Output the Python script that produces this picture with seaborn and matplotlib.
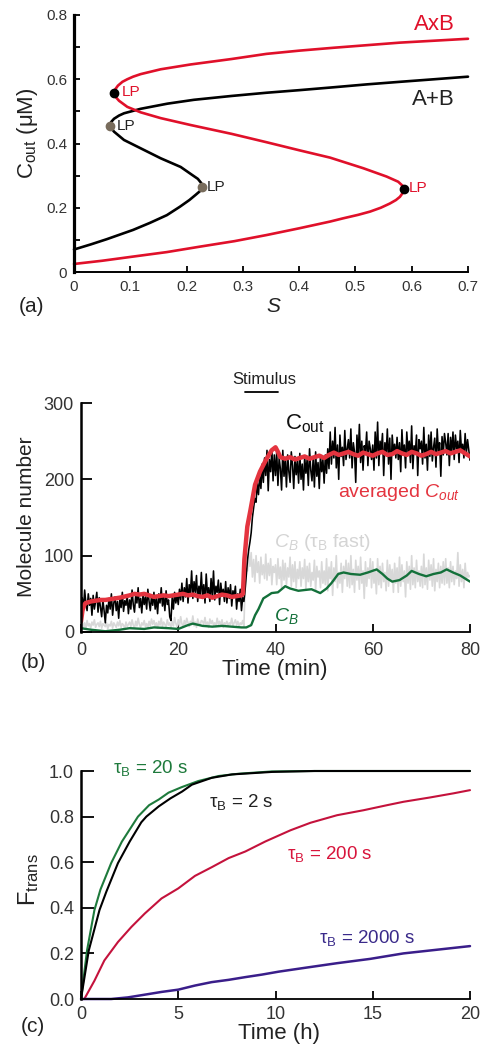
import numpy as np
import matplotlib
matplotlib.use('Agg')
import matplotlib.pyplot as plt
import seaborn as sns

# ---------------- Panel (a): bifurcation diagram ----------------
ab_S = [0.0, 0.03, 0.058, 0.105, 0.135, 0.165, 0.188, 0.205, 0.216, 0.224, 0.228,
        0.226, 0.220, 0.210, 0.1895, 0.154, 0.1185, 0.0888, 0.071, 0.064, 0.066,
        0.0711, 0.080, 0.0888, 0.1185, 0.166, 0.213, 0.28, 0.342, 0.40, 0.461, 0.52,
        0.579, 0.64, 0.70]
ab_C = [0.070, 0.086, 0.102, 0.131, 0.153, 0.177, 0.203, 0.224, 0.240, 0.252, 0.264,
        0.277, 0.290, 0.302, 0.327, 0.354, 0.385, 0.411, 0.437, 0.454, 0.467,
        0.477, 0.487, 0.494, 0.508, 0.524, 0.536, 0.548, 0.558, 0.566, 0.575, 0.584,
        0.592, 0.600, 0.608]
axb_S = [0.0, 0.05, 0.105, 0.165, 0.224, 0.285, 0.342, 0.40, 0.455, 0.478, 0.505,
         0.526, 0.545, 0.561, 0.572, 0.579, 0.584, 0.586, 0.584, 0.576, 0.5555,
         0.514, 0.455, 0.40, 0.342, 0.28, 0.207, 0.154, 0.1185, 0.0947, 0.080,
         0.074, 0.0711, 0.073, 0.078, 0.086, 0.0947, 0.105, 0.1185, 0.154, 0.207,
         0.28, 0.342, 0.40, 0.461, 0.52, 0.579, 0.64, 0.70]
axb_C = [0.025, 0.035, 0.048, 0.062, 0.079, 0.096, 0.115, 0.136, 0.157, 0.167, 0.178,
         0.188, 0.200, 0.213, 0.224, 0.234, 0.246, 0.257, 0.268, 0.281, 0.297,
         0.323, 0.356, 0.379, 0.404, 0.430, 0.4576, 0.479, 0.497, 0.514, 0.533,
         0.545, 0.556, 0.568, 0.580, 0.592, 0.600, 0.608, 0.616, 0.631, 0.646,
         0.663, 0.679, 0.689, 0.698, 0.706, 0.714, 0.720, 0.726]
lp_red_S = [0.0711, 0.586]
lp_red_C = [0.556, 0.2574]
lp_black_S = [0.064, 0.228]
lp_black_C = [0.4545, 0.264]
a_xticks = [0, 0.1, 0.2, 0.3, 0.4, 0.5, 0.6, 0.7]
a_xticklabels = ['0', '0.1', '0.2', '0.3', '0.4', '0.5', '0.6', '0.7']
a_yticks = [0, 0.2, 0.4, 0.6, 0.8]
a_yticklabels = ['0', '0.2', '0.4', '0.6', '0.8']
a_yminor = [0.1, 0.3, 0.5, 0.7]

# ---------------- Panel (b): time series (0.25 min sampling) ----------------
cout_raw = [18, 45, 30, 55, 38, 28, 50, 35, 44, 22, 48, 30, 40, 52, 26, 45, 33, 20, 42, 28,
            12, 35, 25, 44, 30, 50, 22, 38, 46, 28, 40, 18, 44, 32, 52, 27, 41, 35, 48, 24,
            42, 30, 55, 36, 26, 48, 38, 58, 32, 44, 25, 50, 36, 46, 30, 56, 40, 28, 47, 35,
            52, 30, 44, 24, 50, 38, 58, 34, 46, 28, 54, 36, 42, 20, 15, 45, 30, 52, 38, 48,
            36, 56, 42, 64, 40, 58, 46, 70, 38, 62, 50, 80, 44, 66, 52, 74, 40, 60, 48, 78,
            44, 62, 38, 76, 50, 58, 40, 70, 46, 80, 42, 60, 52, 68, 36, 64, 48, 56, 40, 66,
            38, 58, 44, 62, 34, 54, 46, 60, 30, 50, 40, 56, 28, 45, 40, 55, 75, 95, 108, 118,
            130, 150, 162, 175, 170, 195, 180, 205, 188, 220, 196, 228, 205, 238, 185, 226, 210, 240, 198, 232,
            205, 236, 192, 228, 214, 186, 238, 204, 226, 190, 232, 210, 196, 236, 218, 188, 230, 206, 224, 195,
            234, 200, 220, 186, 230, 208, 226, 192, 240, 212, 198, 228, 190, 236, 204, 222, 188, 232, 210, 226,
            195, 232, 208, 240, 214, 262, 220, 250, 228, 268, 215, 245, 200, 258, 230, 242, 218, 264, 226, 240,
            252, 228, 266, 215, 248, 236, 196, 258, 230, 272, 222, 250, 212, 244, 236, 262, 218, 250, 240, 226,
            245, 212, 262, 228, 275, 218, 250, 238, 260, 205, 248, 232, 266, 220, 254, 200, 258, 236, 246, 228,
            255, 226, 248, 210, 265, 232, 245, 215, 262, 236, 250, 222, 270, 214, 244, 234, 258, 205, 252, 240,
            250, 220, 268, 228, 246, 212, 258, 230, 262, 224, 242, 254, 216, 266, 236, 248, 204, 256, 232, 260,
            248, 232, 260, 218, 255, 236, 262, 226, 258, 240, 250, 222, 264, 238, 246, 228, 260, 234, 252, 238,
            225]
cb_fast = [8, 14, 6, 12, 4, 15, 8, 11, 5, 13, 9, 16, 6, 10, 12, 7, 14, 5, 11, 9,
           7, 12, 4, 10, 8, 14, 5, 12, 9, 6, 13, 8, 15, 6, 11, 9, 4, 13, 7, 10,
           13, 7, 16, 9, 5, 14, 8, 18, 10, 6, 12, 9, 15, 7, 11, 5, 14, 8, 17, 10,
           15, 8, 12, 5, 14, 9, 18, 7, 13, 10, 6, 16, 9, 12, 5, 14, 8, 19, 11, 7,
           16, 8, 20, 11, 6, 15, 9, 18, 12, 7, 14, 10, 21, 8, 13, 6, 17, 11, 9, 15,
           14, 10, 19, 8, 13, 6, 17, 11, 15, 9, 12, 7, 18, 10, 14, 8, 16, 6, 12, 10,
           14, 8, 12, 10, 18, 8, 12, 16, 9, 14, 7, 12, 10, 15, 8, 60, 98, 80, 104, 86,
           104, 72, 95, 66, 100, 78, 92, 64, 98, 75, 88, 70, 102, 68, 90, 74, 96, 62, 86, 78,
           88, 62, 96, 70, 85, 58, 94, 68, 90, 62, 84, 72, 98, 60, 88, 66, 92, 58, 82, 70,
           92, 60, 84, 70, 95, 56, 86, 66, 90, 60, 78, 68, 94, 54, 86, 72, 80, 58, 92, 64,
           80, 62, 96, 54, 85, 70, 92, 48, 84, 66, 100, 58, 78, 64, 90, 52, 86, 70, 94, 60,
           90, 58, 100, 62, 82, 52, 94, 68, 86, 56, 98, 64, 80, 44, 92, 60, 84, 70, 96, 58,
           92, 64, 80, 50, 96, 62, 86, 58, 90, 66, 78, 54, 94, 60, 88, 68, 82, 52, 90, 64,
           84, 52, 98, 60, 88, 66, 80, 46, 92, 64, 86, 56, 100, 62, 84, 58, 94, 66, 80, 60,
           86, 58, 102, 62, 84, 56, 94, 68, 88, 60, 96, 54, 82, 66, 90, 58, 86, 64, 92, 62,
           96, 64, 84, 58, 92, 66, 86, 62, 80, 70, 104, 60, 88, 66, 82, 58, 90, 68, 78, 72,
           74]
avg_t = [0, 0.3, 0.7, 1, 2, 3, 4, 5, 6, 8, 10, 11, 12, 13, 14, 15, 16, 17, 18, 19,
         20, 21, 22, 23, 24, 25, 26, 27, 28, 29, 30, 31, 32, 33, 33.3, 33.6, 34.2,
         34.8, 35.8, 36.8, 38, 39.2, 40, 40.5, 41, 42, 43, 44, 45, 46, 47, 48, 49,
         50, 51, 52, 53, 54, 55, 56, 57, 58, 59, 60, 61, 62, 63, 64, 65, 66, 67, 68,
         69, 70, 71, 72, 73, 74, 75, 76, 77, 78, 79, 80]
avg_v = [14, 28, 36, 38, 40, 41, 42, 42, 43, 45, 48, 50, 49, 50, 48, 46, 47, 48, 47, 48,
         49, 50, 48, 49, 47, 46, 48, 45, 47, 49, 48, 46, 47, 48, 50, 95, 138,
         158, 193, 210, 225, 238, 242, 236, 229, 227, 229, 226, 228, 230, 227, 229, 231,
         228, 232, 235, 232, 234, 236, 233, 231, 235, 233, 231, 234, 236, 232, 233, 237,
         234, 232, 236, 234, 231, 233, 236, 233, 235, 237, 234, 236, 238, 234, 230]
cb_t = [0, 2, 5, 8, 10, 13, 15, 18, 20, 22, 23, 25, 27, 29, 31, 33, 34, 35, 35.8,
        36.5, 37.5, 38.5, 39.2, 40.5, 42, 43, 44.7, 46, 47.4, 49.2, 50.5, 51.5, 52.9,
        54, 55.5, 57.4, 59, 60.8, 62, 63, 64, 65.5, 67, 68, 69.5, 71, 72.5, 74, 75.2,
        76.5, 78, 79, 80]
cb_v = [5, 3, 1, 3, 5, 4, 6, 5, 4, 9, 11, 8, 7, 8, 7, 6, 6, 9, 22,
        30, 44, 48, 51, 52, 60, 57, 54, 55, 56, 51, 57, 64, 76,
        78, 76, 75, 78, 82, 76, 70, 66, 68, 74, 80, 76, 73, 76, 78, 82,
        78, 74, 70, 66]
stim_t = [33.7, 40.5]
b_xticks = [0, 20, 40, 60, 80]
b_yticks = [0, 100, 200, 300]

# ---------------- Panel (c): fraction transitioned ----------------
tau2_t = [0, 0.4, 0.95, 1.3, 1.9, 2.5, 3.1, 3.36, 4.0, 4.6, 5.2, 5.7, 6.72, 7.76, 9.83, 12, 15, 20]
tau2_F = [0, 0.213, 0.39, 0.47, 0.596, 0.69, 0.775, 0.80, 0.845, 0.88, 0.91, 0.94, 0.97, 0.985, 0.996, 1.0, 1.0, 1.0]
tau20_t = [0, 0.31, 0.69, 1.0, 1.55, 2.1, 2.93, 3.5, 4.0, 4.5, 5.17, 6.03, 7.07, 8.1, 9.8, 12, 15, 20]
tau20_F = [0, 0.213, 0.39, 0.48, 0.596, 0.69, 0.80, 0.85, 0.875, 0.905, 0.929, 0.956, 0.978, 0.988, 0.998, 1.0, 1.0, 1.0]
tau200_t = [0, 0.17, 0.69, 1.2, 1.9, 2.59, 3.28, 4.14, 5.0, 5.86, 6.72, 7.59, 8.45, 9.48,
            10.77, 11.8, 13.16, 14.53, 15.73, 16.58, 17.95, 19.15, 20]
tau200_F = [0, 0.0, 0.08, 0.169, 0.25, 0.316, 0.375, 0.441, 0.485, 0.54, 0.578, 0.618, 0.647, 0.691,
            0.74, 0.773, 0.806, 0.828, 0.85, 0.865, 0.884, 0.902, 0.916]
tau2000_t = [0, 1.55, 2.41, 3.28, 4.14, 5.0, 5.86, 6.72, 7.59, 8.45, 9.3, 10.17, 11.45,
             13.16, 14.87, 16.58, 18.29, 20]
tau2000_F = [0, 0, 0.007, 0.019, 0.031, 0.041, 0.059, 0.074, 0.084, 0.096, 0.107, 0.12, 0.136,
             0.157, 0.176, 0.2, 0.216, 0.232]
c_xticks = [0, 5, 10, 15, 20]
c_yticks = [0.0, 0.2, 0.4, 0.6, 0.8, 1.0]
c_yticklabels = ['0.0', '0.2', '0.4', '0.6', '0.8', '1.0']

# ---------------- style ----------------
sns.set_theme(style='ticks')
plt.rcParams['font.family'] = ['Liberation Sans', 'DejaVu Sans']
plt.rcParams['mathtext.fontset'] = 'custom'
plt.rcParams['mathtext.rm'] = 'Liberation Sans'
plt.rcParams['mathtext.it'] = 'Liberation Sans:italic'
plt.rcParams['mathtext.bf'] = 'Liberation Sans:bold'
plt.rcParams['text.color'] = '#222222'

W, H = 484, 1045
fig = plt.figure(figsize=(W / 100, H / 100), dpi=100)


def box(l, r, t, b):
    return [l / W, 1 - b / H, (r - l) / W, (b - t) / H]


def style_axes(ax, left_lw, bottom_lw):
    for s in ['top', 'right']:
        ax.spines[s].set_visible(False)
    ax.spines['left'].set_linewidth(left_lw)
    ax.spines['bottom'].set_linewidth(bottom_lw)
    ax.spines['left'].set_color('black')
    ax.spines['bottom'].set_color('black')


def ftext(x, y, s, **kw):
    fig.text(x / W, 1 - y / H, s, ha='center', va='center', **kw)


TAU = r'$\mathrm{\tau}_{\rm B}$'

# ===== Panel (a) =====
axa = fig.add_axes(box(74, 468, 15, 272))
RED_A = '#e0102a'
sns.lineplot(x=ab_S, y=ab_C, sort=False, estimator=None, color='black', lw=1.9, ax=axa)
sns.lineplot(x=axb_S, y=axb_C, sort=False, estimator=None, color=RED_A, lw=1.9, ax=axa)
axa.plot(lp_red_S, lp_red_C, 'o', color='black', ms=6, zorder=5)
axa.plot(lp_black_S, lp_black_C, 'o', color='#786c5c', ms=6, zorder=5)
for ln in axa.lines:
    ln.set_clip_on(False)
axa.set_xlim(0, 0.7)
axa.set_ylim(0, 0.8)
axa.set_xticks(a_xticks, a_xticklabels)
axa.set_yticks(a_yticks, a_yticklabels)
axa.set_yticks(a_yminor, minor=True)
axa.tick_params(axis='both', which='both', direction='in', length=4, width=1.3,
                labelsize=11, colors='black', labelcolor='#333333')
axa.tick_params(axis='y', pad=5)
axa.tick_params(axis='x', pad=6)
style_axes(axa, 2.3, 1.4)
axa.text(0.0853, 0.560, 'LP', color=RED_A, fontsize=11, va='center', ha='left')
axa.text(0.595, 0.2615, 'LP', color=RED_A, fontsize=11, va='center', ha='left')
axa.text(0.0764, 0.4545, 'LP', color='#222222', fontsize=11, va='center', ha='left')
axa.text(0.236, 0.2646, 'LP', color='#222222', fontsize=11, va='center', ha='left')
axa.text(0.641, 0.769, 'AxB', color=RED_A, fontsize=16, va='center', ha='center')
axa.text(0.638, 0.5385, 'A+B', color='#222222', fontsize=16, va='center', ha='center')
axa.set_xlabel('')
axa.set_ylabel('')
ftext(28, 133, 'C$_{\\rm out}$ (μM)', fontsize=16, rotation=90)
ftext(273, 307, 'S', fontsize=15, style='italic')
ftext(32, 306, '(a)', fontsize=15)

# ===== Panel (b) =====
axb = fig.add_axes(box(81, 470, 403, 632))
t_raw = np.linspace(0, 80, len(cout_raw))
t_fast = np.linspace(0, 80, len(cb_fast))
sns.lineplot(x=t_fast, y=cb_fast, sort=False, estimator=None, color='#d8d8d8', lw=1.2, ax=axb)
sns.lineplot(x=cb_t, y=cb_v, sort=False, estimator=None, color='#13703a', lw=1.7, ax=axb)
sns.lineplot(x=t_raw, y=cout_raw, sort=False, estimator=None, color='black', lw=1.15, ax=axb)
sns.lineplot(x=avg_t, y=avg_v, sort=False, estimator=None, color='#e4343f', lw=3.2, ax=axb)
axb.set_xlim(0, 80)
axb.set_ylim(0, 300)
axb.set_xticks(b_xticks)
axb.set_yticks(b_yticks)
axb.tick_params(axis='y', direction='in', length=8, width=1.3, labelsize=13, pad=5,
                colors='black', labelcolor='#333333')
axb.tick_params(axis='x', direction='in', length=6, width=1.3, labelsize=13, pad=7,
                colors='black', labelcolor='#333333')
style_axes(axb, 1.8, 1.3)
axb.plot(stim_t, [315, 315], color='black', lw=1.3, clip_on=False)
axb.text(37.6, 325, 'Stimulus', fontsize=12, ha='center', va='baseline', color='#222222')
axb.text(42.0, 265, r'C$_{\rm out}$', fontsize=16, ha='left', va='baseline', color='#111111')
axb.text(52.9, 177, r'averaged $C_{out}$', fontsize=14, ha='left', va='baseline', color='#e4343f')
axb.text(39.6, 111, r'$C_B$ (' + TAU + ' fast)', fontsize=14, ha='left', va='baseline',
         color='#d4d4d4')
axb.text(39.7, 14, r'$C_B$', fontsize=14, ha='left', va='baseline', color='#13703a')
axb.set_xlabel('')
axb.set_ylabel('')
ftext(27, 517, 'Molecule number', fontsize=15, rotation=90)
ftext(275, 670, 'Time (min)', fontsize=16)
ftext(33, 662, '(b)', fontsize=15)

# ===== Panel (c) =====
axc = fig.add_axes(box(81, 470, 771, 999))
sns.lineplot(x=tau200_t, y=tau200_F, sort=False, estimator=None, color='#c4123c', lw=1.5, ax=axc)
sns.lineplot(x=tau2000_t, y=tau2000_F, sort=False, estimator=None, color='#3a1e8a', lw=1.8, ax=axc)
sns.lineplot(x=tau20_t, y=tau20_F, sort=False, estimator=None, color='#1e7a3c', lw=1.5, ax=axc)
sns.lineplot(x=tau2_t, y=tau2_F, sort=False, estimator=None, color='black', lw=1.5, ax=axc)
for ln in axc.lines:
    ln.set_clip_on(False)
axc.set_xlim(0, 20)
axc.set_ylim(0, 1.0)
axc.set_xticks(c_xticks)
axc.set_yticks(c_yticks, c_yticklabels)
axc.tick_params(axis='y', direction='in', length=9, width=1.3, labelsize=13, pad=5,
                colors='black', labelcolor='#333333')
axc.tick_params(axis='x', direction='in', length=6, width=1.3, labelsize=13, pad=5,
                colors='black', labelcolor='#333333')
style_axes(axc, 1.8, 1.3)
axc.text(1.65, 0.99, TAU + ' = 20 s', fontsize=13.5, ha='left', va='baseline', color='#1e7a3c')
axc.text(6.6, 0.84, TAU + ' = 2 s', fontsize=13.5, ha='left', va='baseline', color='#222222')
axc.text(10.57, 0.613, TAU + ' = 200 s', fontsize=13.5, ha='left', va='baseline', color='#d8153c')
axc.text(12.25, 0.247, TAU + ' = 2000 s', fontsize=13.5, ha='left', va='baseline', color='#3a2a8a')
axc.set_xlabel('')
axc.set_ylabel('')
ftext(29, 880, r'F$_{\rm trans}$', fontsize=17, rotation=90)
ftext(279, 1033, 'Time (h)', fontsize=16)
ftext(33, 1027, '(c)', fontsize=15)

fig.savefig('out.png', dpi=100)
